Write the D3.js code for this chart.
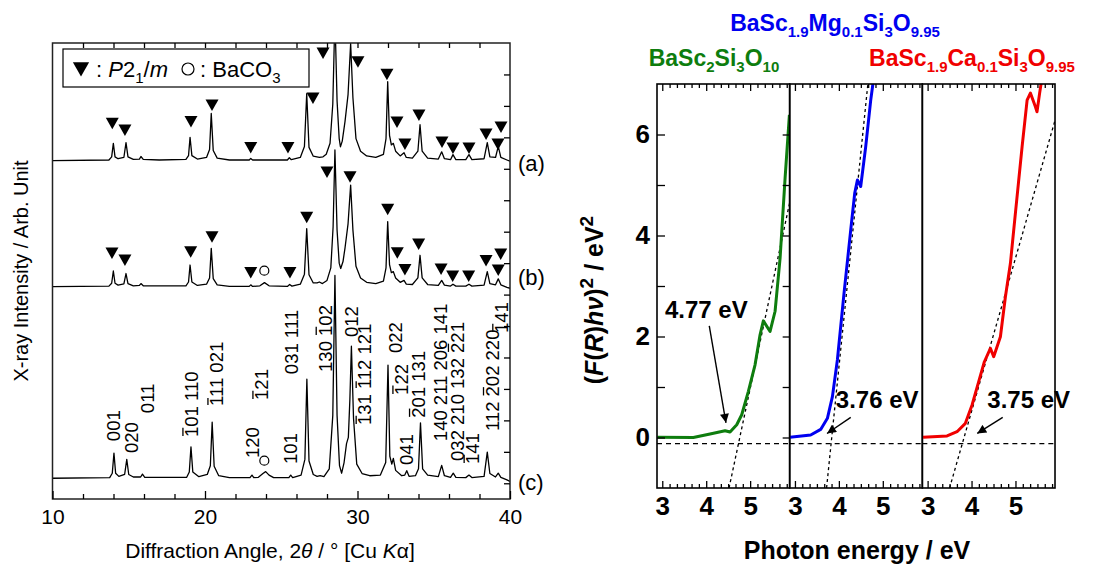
<!DOCTYPE html>
<html>
<head>
<meta charset="utf-8">
<script src="https://cdn.jsdelivr.net/npm/d3@7"></script>
<style>
body { margin: 0; background: #fff; }
text { font-family: Arial, "Liberation Sans", sans-serif; fill: #000; }
</style>
</head>
<body>
<svg id="fig" width="1094" height="565"></svg>
<script>
// ---------- XRD patterns (2theta, intensity above own baseline) ----------
var xrdA = [[10.0,0.00],[13.7,0.02],[13.88,0.12],[13.99,0.55],[14.1,0.12],[14.3,0.06],[14.68,0.1],[14.82,0.57],[14.95,0.12],[15.3,0.04],[15.7,0.05],[15.8,0.13],[15.95,0.04],[17.0,0.02],[18.75,0.04],[18.92,0.16],[19.02,0.74],[19.14,0.16],[19.5,0.05],[20.1,0.1],[20.3,0.35],[20.41,1.5],[20.54,0.32],[20.8,0.08],[21.6,0.02],[22.9,0.02],[23.0,0.07],[23.12,0.02],[25.4,0.02],[25.53,0.09],[25.66,0.03],[26.25,0.1],[26.52,0.45],[26.67,2.13],[26.82,0.42],[27.1,0.14],[27.5,0.1],[27.74,0.12],[27.95,0.2],[28.2,0.55],[28.38,1.8],[28.52,4.6],[28.66,1.9],[28.8,0.7],[28.88,0.44],[29.0,0.62],[29.18,1.24],[29.38,2.1],[29.55,3.72],[29.7,2.0],[29.9,0.7],[30.2,0.3],[30.6,0.15],[31.2,0.1],[31.7,0.2],[31.87,0.7],[31.98,2.51],[32.1,0.8],[32.22,0.5],[32.35,0.55],[32.5,0.3],[32.8,0.15],[33.05,0.25],[33.2,0.1],[33.6,0.08],[33.96,0.3],[34.1,1.14],[34.24,0.3],[34.6,0.08],[35.3,0.05],[35.52,0.28],[35.7,0.06],[36.1,0.03],[36.26,0.19],[36.45,0.03],[37.1,0.03],[37.31,0.19],[37.5,0.03],[38.3,0.06],[38.51,0.57],[38.68,0.12],[39.05,0.1],[39.23,0.45],[39.4,0.1],[39.8,0.02],[40.0,-0.02]];
var xrdB = [[10.0,0.0],[13.7,0.02],[13.88,0.11],[13.99,0.5],[14.1,0.11],[14.3,0.05],[14.68,0.09],[14.82,0.42],[14.95,0.1],[15.3,0.03],[15.7,0.04],[15.8,0.1],[15.95,0.03],[18.75,0.03],[18.92,0.15],[19.02,0.69],[19.14,0.15],[19.5,0.04],[20.1,0.08],[20.3,0.28],[20.41,1.22],[20.54,0.26],[20.8,0.06],[21.6,0.01],[22.9,0.01],[23.0,0.06],[23.12,0.01],[23.6,0.03],[23.9,0.13],[24.2,0.03],[25.4,0.01],[25.55,0.07],[25.7,0.02],[26.25,0.08],[26.52,0.4],[26.67,1.85],[26.82,0.38],[27.1,0.12],[27.35,0.12],[27.5,0.15],[27.7,0.1],[28.0,0.2],[28.25,0.6],[28.4,1.9],[28.52,4.35],[28.66,1.8],[28.8,0.75],[28.9,0.58],[29.05,0.8],[29.18,1.23],[29.38,2.0],[29.55,3.23],[29.7,1.8],[29.9,0.65],[30.2,0.28],[30.6,0.14],[31.2,0.1],[31.7,0.18],[31.87,0.6],[31.98,2.07],[32.1,0.7],[32.22,0.45],[32.35,0.48],[32.5,0.28],[32.8,0.14],[33.05,0.2],[33.2,0.08],[33.6,0.07],[33.96,0.28],[34.1,1.0],[34.24,0.28],[34.6,0.07],[35.3,0.04],[35.52,0.2],[35.7,0.05],[36.1,0.02],[36.26,0.08],[36.45,0.02],[37.1,0.02],[37.31,0.08],[37.5,0.02],[38.3,0.05],[38.51,0.48],[38.68,0.1],[39.05,0.06],[39.23,0.25],[39.4,0.06],[39.8,-0.02],[40.0,-0.05]];
var xrdC = [[10.0,0.0],[13.75,0.02],[13.92,0.16],[14.03,0.8],[14.14,0.16],[14.35,0.06],[14.73,0.12],[14.87,0.6],[15.0,0.12],[15.3,0.04],[15.78,0.04],[15.9,0.13],[16.05,0.03],[18.8,0.03],[18.97,0.2],[19.08,1.0],[19.2,0.2],[19.6,0.05],[20.15,0.12],[20.35,0.4],[20.47,1.78],[20.6,0.38],[20.9,0.08],[21.6,0.02],[22.95,0.02],[23.08,0.1],[23.2,0.02],[23.5,0.03],[23.8,0.15],[23.98,0.21],[24.2,0.1],[24.5,0.02],[25.5,0.02],[25.62,0.1],[25.75,0.02],[26.3,0.1],[26.55,0.6],[26.68,3.15],[26.82,0.55],[27.1,0.12],[27.35,0.06],[27.55,0.08],[27.8,0.05],[28.15,0.3],[28.38,2.0],[28.52,6.45],[28.66,2.0],[28.82,0.4],[28.96,0.16],[29.12,0.5],[29.28,1.1],[29.4,1.3],[29.5,2.5],[29.6,4.2],[29.74,1.9],[29.95,0.45],[30.3,0.15],[30.8,0.08],[31.5,0.1],[31.85,0.5],[32.0,3.6],[32.12,0.7],[32.25,0.45],[32.35,0.63],[32.5,0.25],[32.9,0.08],[33.1,0.1],[33.23,0.24],[33.38,0.06],[33.8,0.08],[34.0,0.3],[34.13,1.76],[34.27,0.3],[34.6,0.1],[35.3,0.05],[35.52,0.41],[35.7,0.08],[36.1,0.03],[36.28,0.16],[36.45,0.03],[37.1,0.02],[37.31,0.1],[37.5,0.02],[38.3,0.06],[38.51,0.83],[38.68,0.15],[39.05,0.04],[39.23,0.16],[39.4,0.03],[39.8,-0.05],[40.0,-0.1]];
var xrdOffsets = [10.26, 6.25, 0.16];
var xrdNames = ["(a)", "(b)", "(c)"];
var xrdNameLevels = [10.18, 6.56, 0.04];

// P2_1/m marks and BaCO3 marks (2theta, absolute level)
var markersA = [[13.92,11.45],[14.75,11.23],[19.08,11.50],[20.46,12.03],[23.0,10.68],[25.44,10.68],[27.08,12.25],[27.74,13.68],[30.03,13.40],[31.93,13.01],[32.59,11.49],[33.11,10.79],[34.03,11.71],[35.54,10.85],[36.26,10.66],[37.31,10.66],[38.43,11.11],[39.21,10.79],[39.41,11.33]];
var markersB = [[13.90,7.32],[14.75,7.10],[19.06,7.36],[20.46,7.84],[23.0,6.70],[25.57,6.70],[26.67,8.46],[28.0,9.90],[29.51,9.75],[31.98,8.71],[32.61,7.33],[33.11,6.80],[34.01,7.61],[35.48,6.81],[36.24,6.59],[37.29,6.59],[38.43,7.08],[39.23,6.78],[39.39,7.29]];
var carbonateMarks = [[23.89,6.76],[23.89,0.72]];

// hkl indices of pattern (c): 2theta, level of text start, text ("-" = bar over next digit)
var hklLabels = [
  [14.03,1.34,"001"], [15.19,0.96,"020"], [16.22,2.23,"011"],
  [19.13,1.47,"-101 110"], [20.77,2.46,"-111 021"], [23.10,0.80,"120"],
  [23.72,2.65,"-121"], [25.62,0.61,"101"], [25.69,3.47,"031 111"],
  [27.87,3.54,"130 -102"], [29.62,4.65,"012"], [30.49,1.85,"-131 -112 121"],
  [32.46,4.14,"022"], [32.90,2.81,"-122"], [33.23,0.58,"041"],
  [33.99,2.08,"-201 131"], [35.46,1.34,"140 211 206 141"], [36.54,0.71,"032 210 132 -221"],
  [37.57,0.61,"-141"], [38.84,1.66,"112 -202 220"], [39.45,4.78,"-141"]
];
var xTicksMajor = [10, 20, 30, 40];

// ---------- (F(R)hv)^2 spectra ----------
var specGreen = [[2.887,0.004],[3.707,0.0],[4.087,0.07],[4.429,0.135],[4.543,0.11],[4.695,0.253],[4.809,0.45],[4.96,0.915],[5.112,1.44],[5.226,2.035],[5.301,2.31],[5.454,2.10],[5.568,2.5],[5.682,3.55],[5.796,5.14],[5.894,6.39]];
var specBlue = [[2.887,0.004],[3.358,0.05],[3.586,0.16],[3.739,0.38],[3.853,0.81],[3.966,1.535],[4.117,2.855],[4.27,4.11],[4.36,4.835],[4.422,5.1],[4.497,4.97],[4.611,5.76],[4.725,6.68],[4.79,7.1]];
var specRed = [[2.896,0.004],[3.443,0.03],[3.67,0.115],[3.86,0.28],[4.012,0.644],[4.163,1.105],[4.292,1.5],[4.429,1.766],[4.504,1.6],[4.657,1.996],[4.771,2.788],[4.885,3.45],[4.998,4.44],[5.151,5.76],[5.265,6.68],[5.34,6.82],[5.454,6.55],[5.49,6.45],[5.55,6.82],[5.6,7.1]];
var sampleNames = [
  [["BaSc",""],["2","sub"],["Si",""],["3","sub"],["O",""],["10","sub"]],
  [["BaSc",""],["1.9","sub"],["Mg",""],["0.1","sub"],["Si",""],["3","sub"],["O",""],["9.95","sub"]],
  [["BaSc",""],["1.9","sub"],["Ca",""],["0.1","sub"],["Si",""],["3","sub"],["O",""],["9.95","sub"]]
];
var sampleColors = ["#0e7d0e", "#0000f0", "#f00000"];
var tangentLines = [[[4.52,-1],[5.90,4.65]], [[3.72,-1],[4.66,7]], [[3.50,-1],[5.90,6.28]]];
var baselineLevel = -0.12;
var gapLabels = ["4.77 eV", "3.76 eV", "3.75 eV"];
var gapTextPos = [[3.06,2.37], [3.93,0.58], [4.36,0.58]];
var gapArrows = [[[4.07,2.21],[4.45,0.29]], [[4.27,0.40],[3.73,0.08]], [[4.71,0.40],[4.13,0.08]]];

var svg = d3.select("#fig");

function rich(sel, parts, size, small) {
    var shift = 0;
    parts.forEach(function(p){
        var target = p[1] == "sub" ? 0.28 * size : (p[1] == "sup" ? -0.42 * size : 0);
        var ts = sel.append("tspan").text(p[0]).attr("dy", target - shift);
        shift = target;
        if (p[1] == "sub" || p[1] == "sup") ts.attr("font-size", small);
        if (p[1] == "i") ts.attr("font-style", "italic");
    });
}

// ================= left panel: XRD =================
var x = d3.scaleLinear().domain([10, 40]).range([52.5, 510]);
var y = d3.scaleLinear().domain([-0.5, 14]).range([499, 43]);

svg.append("clipPath").attr("id", "clipL").append("rect")
    .attr("x", 52.5).attr("y", 43).attr("width", 457.5).attr("height", 456);

var line = d3.line().x(function(d){ return x(d[0]); });
var gCurves = svg.append("g").attr("clip-path", "url(#clipL)");
[xrdA, xrdB, xrdC].forEach(function(ser, i){
    var off = xrdOffsets[i];
    gCurves.append("path").datum(ser)
        .attr("d", line.y(function(d){ return y(d[1] + off); }))
        .attr("fill", "none").attr("stroke", "#000").attr("stroke-width", 1.3)
        .attr("stroke-linejoin", "round");
});

xrdNames.forEach(function(n, i){
    svg.append("text").attr("x", x(40) + 8).attr("y", y(xrdNameLevels[i]))
        .attr("dy", "0.35em").attr("font-size", 22).text(n);
});

var tri = "M-6.5,-5.5L6.5,-5.5L0,6Z";
svg.append("g").selectAll("path").data(markersA.concat(markersB)).enter().append("path")
    .attr("d", tri).attr("fill", "#000")
    .attr("transform", function(d){ return "translate(" + x(d[0]) + "," + y(d[1]) + ")"; });
svg.append("g").selectAll("circle").data(carbonateMarks).enter().append("circle")
    .attr("cx", function(d){ return x(d[0]); }).attr("cy", function(d){ return y(d[1]); })
    .attr("r", 4.5).attr("fill", "none").attr("stroke", "#000").attr("stroke-width", 1.2);

// hkl labels, rotated
hklLabels.forEach(function(l){
    var g = svg.append("g").attr("transform", "translate(" + x(l[0]) + "," + y(l[1]) + ") rotate(-90)");
    var t = g.append("text").attr("font-size", 18.5).attr("y", 6.5);
    var plain = "", bars = [];
    for (var k = 0; k < l[2].length; k++) {
        if (l[2][k] == "-") { bars.push(plain.length); continue; }
        plain += l[2][k];
    }
    t.text(plain);
    bars.forEach(function(ci){
        var e = t.node().getExtentOfChar(ci);
        g.append("line").attr("x1", e.x + 1).attr("x2", e.x + e.width - 1)
            .attr("y1", -8.8).attr("y2", -8.8).attr("stroke", "#000").attr("stroke-width", 1.3);
    });
});

// legend box
var lg = svg.append("g");
lg.append("rect").attr("x", 63).attr("y", 49).attr("width", 246).attr("height", 38)
    .attr("fill", "#fff").attr("stroke", "#000").attr("stroke-width", 1.2);
lg.append("path").attr("d", tri).attr("transform", "translate(81,69) scale(1.25)");
var lt = lg.append("text").attr("x", 96).attr("y", 77).attr("font-size", 22);
rich(lt, [[": ",""],["P","i"],["2",""],["1","sub"],["/",""],["m","i"]], 22, 15);
lg.append("circle").attr("cx", 188).attr("cy", 69).attr("r", 6).attr("fill", "none")
    .attr("stroke", "#000").attr("stroke-width", 1.2);
var lt2 = lg.append("text").attr("x", 200).attr("y", 77).attr("font-size", 22);
rich(lt2, [[": BaCO",""],["3","sub"]], 22, 15);

// frame and axes
svg.append("rect").attr("x", 52.5).attr("y", 43).attr("width", 457.5).attr("height", 456)
    .attr("fill", "none").attr("stroke", "#222").attr("stroke-width", 1.5);

var minorX = d3.range(12, 40, 2).filter(function(v){ return v % 10 != 0; });
var gxb = svg.append("g").attr("transform", "translate(0,499)")
    .call(d3.axisBottom(x).tickValues(xTicksMajor).tickSizeInner(-8).tickSizeOuter(0).tickPadding(10));
svg.append("g").attr("transform", "translate(0,499)")
    .call(d3.axisBottom(x).tickValues(minorX).tickSizeInner(-5).tickSizeOuter(0).tickFormat(""));
svg.append("g").attr("transform", "translate(0,43)")
    .call(d3.axisTop(x).tickValues(d3.range(12, 40, 2)).tickSizeInner(-5).tickSizeOuter(0).tickFormat(""));
svg.append("g").attr("transform", "translate(510,0)")
    .call(d3.axisRight(y).tickValues(d3.range(0, 14)).tickSizeInner(-6).tickSizeOuter(0).tickFormat(""));
gxb.selectAll("text").attr("font-size", 21).style("font-family", "Arial, 'Liberation Sans', sans-serif");

svg.append("text").attr("transform", "translate(21,271) rotate(-90)").attr("text-anchor", "middle")
    .attr("dy", "0.35em").attr("font-size", 20).text("X-ray Intensity / Arb. Unit");
var xt = svg.append("text").attr("x", 270).attr("y", 558).attr("text-anchor", "middle").attr("font-size", 21);
rich(xt, [["Diffraction Angle, 2",""],["\u03B8","i"],[" / \u00B0  [Cu ",""],["K","i"],["\u03B1",""],["]",""]], 21, 14);

// ================= right panels: band-gap plots =================
var yR = d3.scaleLinear().domain([-1, 7]).range([488, 84]);
var panelW = 132.67, panelL = 657;
var eTicksMinor = d3.range(18, 36).map(function(k){ return k / 6; }).filter(function(v){ return Math.abs(v - Math.round(v)) > 0.01; });
var series = [specGreen, specBlue, specRed];

svg.append("defs").append("marker").attr("id", "ah").attr("viewBox", "0 0 10 10")
    .attr("refX", 10).attr("refY", 5).attr("markerWidth", 11).attr("markerHeight", 9)
    .attr("markerUnits", "userSpaceOnUse").attr("orient", "auto")
    .append("path").attr("d", "M0,0L10,5L0,10Z").attr("fill", "#000");

series.forEach(function(ser, i){
    var left = panelL + i * panelW;
    var xs = d3.scaleLinear().domain([2.88, 5.9]).range([left, left + panelW]);
    var cid = "clipR" + i;
    svg.append("clipPath").attr("id", cid).append("rect")
        .attr("x", left).attr("y", 84).attr("width", panelW).attr("height", 404);
    var g = svg.append("g").attr("clip-path", "url(#" + cid + ")");

    g.append("line").attr("x1", xs(2.88)).attr("x2", xs(5.9))
        .attr("y1", yR(baselineLevel)).attr("y2", yR(baselineLevel))
        .attr("stroke", "#000").attr("stroke-width", 1.3).attr("stroke-dasharray", "5,4");
    var tl = tangentLines[i];
    g.append("line").attr("x1", xs(tl[0][0])).attr("y1", yR(tl[0][1]))
        .attr("x2", xs(tl[1][0])).attr("y2", yR(tl[1][1]))
        .attr("stroke", "#000").attr("stroke-width", 1.3).attr("stroke-dasharray", "3,3");
    g.append("path").datum(ser)
        .attr("d", d3.line().x(function(d){ return xs(d[0]); }).y(function(d){ return yR(d[1]); }))
        .attr("fill", "none").attr("stroke", sampleColors[i]).attr("stroke-width", 3)
        .attr("stroke-linejoin", "round");

    svg.append("rect").attr("x", left).attr("y", 84).attr("width", panelW).attr("height", 404)
        .attr("fill", "none").attr("stroke", "#000").attr("stroke-width", 1.6);

    var gb = svg.append("g").attr("transform", "translate(0,488)")
        .call(d3.axisBottom(xs).tickValues([3, 4, 5]).tickFormat(d3.format("d"))
            .tickSizeInner(-7).tickSizeOuter(0).tickPadding(9));
    gb.selectAll("text").attr("font-size", 26).attr("font-weight", "bold");
    svg.append("g").attr("transform", "translate(0,488)")
        .call(d3.axisBottom(xs).tickValues(eTicksMinor).tickSizeInner(-4).tickSizeOuter(0).tickFormat(""));
    svg.append("g").attr("transform", "translate(0,84)")
        .call(d3.axisTop(xs).tickValues([3, 4, 5]).tickSizeInner(-7).tickSizeOuter(0).tickFormat(""));
    svg.append("g").attr("transform", "translate(0,84)")
        .call(d3.axisTop(xs).tickValues(eTicksMinor).tickSizeInner(-4).tickSizeOuter(0).tickFormat(""));

    // band gap label and arrow
    svg.append("text").attr("x", xs(gapTextPos[i][0])).attr("y", yR(gapTextPos[i][1]))
        .attr("font-size", 24).attr("font-weight", "bold").text(gapLabels[i]);
    var ar = gapArrows[i];
    svg.append("line").attr("x1", xs(ar[0][0])).attr("y1", yR(ar[0][1]))
        .attr("x2", xs(ar[1][0])).attr("y2", yR(ar[1][1]))
        .attr("stroke", "#000").attr("stroke-width", 1.4).attr("marker-end", "url(#ah)");

    if (i == 0) {
        var gl = svg.append("g").attr("transform", "translate(" + left + ",0)")
            .call(d3.axisLeft(yR).tickValues([0, 2, 4, 6]).tickSizeInner(-8).tickSizeOuter(0).tickPadding(7));
        gl.selectAll("text").attr("font-size", 26).attr("font-weight", "bold");
        svg.append("g").attr("transform", "translate(" + left + ",0)")
            .call(d3.axisLeft(yR).tickValues([1, 3, 5]).tickSizeInner(-8).tickSizeOuter(0).tickFormat(""));
        svg.append("g").attr("transform", "translate(" + (left + panelW) + ",0)")
            .call(d3.axisRight(yR).tickValues(d3.range(0, 7)).tickSizeInner(-7).tickSizeOuter(0).tickFormat(""));
    }
});
svg.selectAll(".domain").remove();
svg.selectAll(".tick line").attr("stroke", "#000").attr("stroke-width", 1.3);

// sample names
var nameX = [714, 835, 972], nameY = [66, 31, 66];
sampleNames.forEach(function(parts, i){
    var t = svg.append("text").attr("x", nameX[i]).attr("y", nameY[i]).attr("text-anchor", "middle")
        .attr("font-size", 23).attr("font-weight", "bold").attr("fill", sampleColors[i]);
    rich(t, parts, 23, 15);
    t.selectAll("tspan").attr("fill", sampleColors[i]);
});

var yl = svg.append("text").attr("transform", "translate(603,300) rotate(-90)")
    .attr("text-anchor", "middle").attr("dy", "0.35em").attr("font-size", 25).attr("font-weight", "bold");
rich(yl, [["(",""],["F","i"],["(",""],["R","i"],[")",""],["h","i"],["\u03BD","i"],[")",""],["2","sup"],["  /  eV",""],["2","sup"]], 25, 19);
svg.append("text").attr("x", 857).attr("y", 559).attr("text-anchor", "middle")
    .attr("font-size", 25).attr("font-weight", "bold").text("Photon energy / eV");
</script>
</body>
</html>
